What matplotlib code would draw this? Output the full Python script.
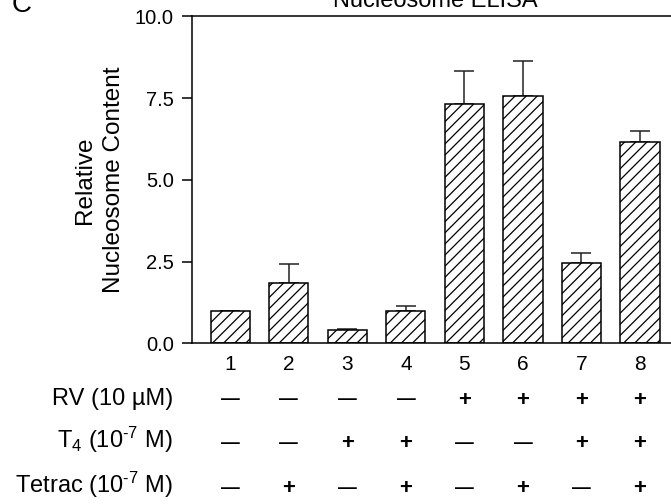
import numpy as np
import matplotlib
matplotlib.use('Agg')
import matplotlib.pyplot as plt
from matplotlib.transforms import blended_transform_factory

plt.rcParams['font.family'] = ['Liberation Sans', 'DejaVu Sans']
plt.rcParams['mathtext.fontset'] = 'custom'
plt.rcParams['mathtext.rm'] = 'Liberation Sans'
plt.rcParams['mathtext.it'] = 'Liberation Sans'
plt.rcParams['hatch.linewidth'] = 0.9

# data
lanes = ['1', '2', '3', '4', '5', '6', '7', '8']
means = [1.0, 1.84, 0.41, 0.99, 7.31, 7.56, 2.45, 6.17]
errs = [0.0, 0.59, 0.04, 0.15, 1.03, 1.08, 0.32, 0.32]

row_labels = ['RV (10 µM)', r'T$_4$ (10$^{\text{-}7}$ M)', r'Tetrac (10$^{\text{-}7}$ M)']
rv = ['-', '-', '-', '-', '+', '+', '+', '+']
t4 = ['-', '-', '+', '+', '-', '-', '+', '+']
tetrac = ['-', '+', '-', '+', '-', '+', '-', '+']

fig = plt.figure(figsize=(6.71, 5.04), dpi=100)
ax = fig.add_axes([0.2857, 0.3188, 0.7256, 0.6485])

x = np.arange(1, len(lanes) + 1)
ax.bar(x, means, width=0.67, color='white', edgecolor='black',
       linewidth=1.1, hatch='///', zorder=2)
ax.errorbar(x, means, yerr=[np.zeros(len(errs)), errs], fmt='none',
            ecolor='#222222', elinewidth=1.1, capsize=7.5, capthick=1.1, zorder=1)

ax.set_xlim(0.34, 8.66)
ax.set_ylim(0, 10)
ax.set_yticks([0, 2.5, 5, 7.5, 10])
ax.set_yticklabels(['%.1f' % v for v in [0, 2.5, 5, 7.5, 10]], fontsize=14.5)
ax.set_xticks(x)
ax.set_xticklabels(lanes, fontsize=15)
ax.tick_params(axis='x', length=0, pad=8.4)
ax.tick_params(axis='y', length=7, width=1.1, pad=6)
for s in ['top', 'left', 'bottom']:
    ax.spines[s].set_linewidth(1.1)
ax.spines['right'].set_visible(False)

ax.set_ylabel('Relative\nNucleosome Content', fontsize=17.5, linespacing=1.45)
ax.yaxis.set_label_coords(-0.136, 0.5)
ax.set_title('Nucleosome ELISA', fontsize=17, pad=6.5)

fig.text(12 / 671, 1 - 12 / 504, 'C', fontsize=20, va='baseline')

# treatment table under the axis
row_y = [1 - 405 / 504, 1 - 448.3 / 504, 1 - 493.3 / 504]
sign_y = [1 - 397.5 / 504, 1 - 441 / 504, 1 - 486.2 / 504]
trans = blended_transform_factory(ax.transData, fig.transFigure)
for label, signs, yb, ys in zip(row_labels, [rv, t4, tetrac], row_y, sign_y):
    fig.text(173 / 671, yb, label, fontsize=17, ha='right', va='baseline')
    for xi, s in zip(x, signs):
        if s == '+':
            ax.text(xi, ys, '+', fontsize=16, fontweight='bold', ha='center',
                    va='center_baseline', transform=trans, clip_on=False)
        else:
            ax.text(xi, ys, '—', fontsize=13.5, fontweight='bold', ha='center',
                    va='center_baseline', transform=trans, clip_on=False)

fig.savefig('out.png', dpi=100)
